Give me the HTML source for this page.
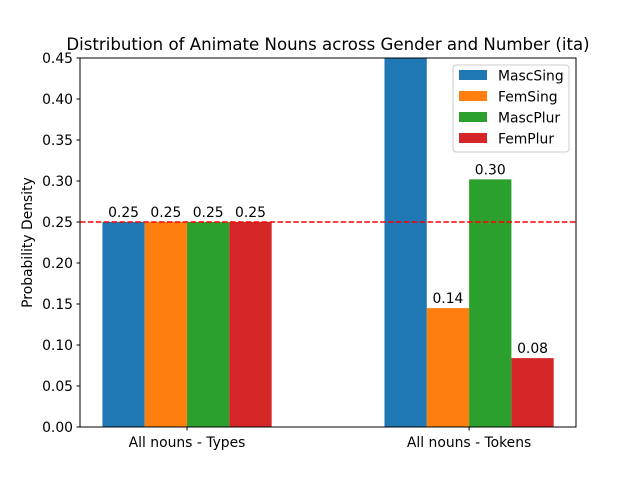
<!DOCTYPE html>
<html><head><meta charset="utf-8"><style>
body{margin:0;background:#fff}
svg{font-family:"DejaVu Sans","Liberation Sans",sans-serif}
</style></head><body>
<svg id="c" width="640" height="480"></svg>
<script>
const categories=["All nouns - Types","All nouns - Tokens"];
const seriesNames=["MascSing","FemSing","MascPlur","FemPlur"];
const colors=["#1f77b4","#ff7f0e","#2ca02c","#d62728"];
const mascSing=[0.25,0.47];
const femSing=[0.25,0.145];
const mascPlur=[0.25,0.302];
const femPlur=[0.25,0.084];
const yTicks=[0,0.05,0.1,0.15,0.2,0.25,0.3,0.35,0.4,0.45];
const refLine=0.25;
const series=[mascSing,femSing,mascPlur,femPlur];
const L=80,R=576,T=58,B=427,xmin=-0.3795,xmax=1.379,ymax=0.45,bw=0.15,FS=13.9;
const X=v=>L+(v-xmin)/(xmax-xmin)*(R-L);
const Y=v=>B-v/ymax*(B-T);
const s=document.getElementById('c');const NS="http://www.w3.org/2000/svg";
function el(t,a,p){const e=document.createElementNS(NS,t);for(const k in a)e.setAttribute(k,a[k]);(p||s).appendChild(e);return e;}
const cp=el('clipPath',{id:'clip'});el('rect',{x:L,y:T,width:R-L,height:B-T},cp);
const g=el('g',{'clip-path':'url(#clip)'});


series.forEach((vals,si)=>{vals.forEach((v,ci)=>{
 const xc=ci+(si-1.5)*bw;
 const r=el('rect',{x:X(xc-bw/2),y:Y(v),width:X(xc+bw/2)-X(xc-bw/2),height:B-Y(v),fill:colors[si]},g);
 
 
 if(v<=ymax){const t=el('text',{x:X(xc),y:Y(v)-5,'text-anchor':'middle','font-size':FS,fill:'#000'});t.textContent=v.toFixed(2);
 
 }
});});
const ln=el('line',{x1:L,x2:R,y1:Y(refLine),y2:Y(refLine),stroke:'#ff0000','stroke-width':1.5,'stroke-dasharray':'5.5,2.4'});


const fr=el('rect',{x:L,y:T,width:R-L,height:B-T,fill:'none',stroke:'#000','stroke-width':1});


yTicks.forEach(v=>{el('line',{x1:L-3.5,x2:L,y1:Y(v),y2:Y(v),stroke:'#000'});
 const t=el('text',{x:L-7,y:Y(v)+5,'text-anchor':'end','font-size':FS});t.textContent=v.toFixed(2);
 
 });
categories.forEach((c,i)=>{el('line',{x1:X(i),x2:X(i),y1:B,y2:B+3.5,stroke:'#000'});
 const t=el('text',{x:X(i),y:B+20,'text-anchor':'middle','font-size':FS});t.textContent=c;
 
 });
const yt=el('text',{x:32,y:(T+B)/2,'text-anchor':'middle','font-size':FS,transform:`rotate(-90 32 ${(T+B)/2})`});yt.textContent='Probability Density';


const ti=el('text',{x:(L+R)/2+0,y:50,'text-anchor':'middle','font-size':16.6});ti.textContent='Distribution of Animate Nouns across Gender and Number (ita)';


const lg=el('g',{});


el('rect',{x:453,y:65,width:116,height:87,rx:3,fill:'#fff',stroke:'#ccc','fill-opacity':0.8},lg);
seriesNames.forEach((n,i)=>{const y=70+i*21;
 el('rect',{x:459,y:y,width:28,height:10,fill:colors[i]},lg);
 const t=el('text',{x:498,y:y+10.5,'font-size':FS},lg);t.textContent=n;
 
 });
</script>
</body></html>
